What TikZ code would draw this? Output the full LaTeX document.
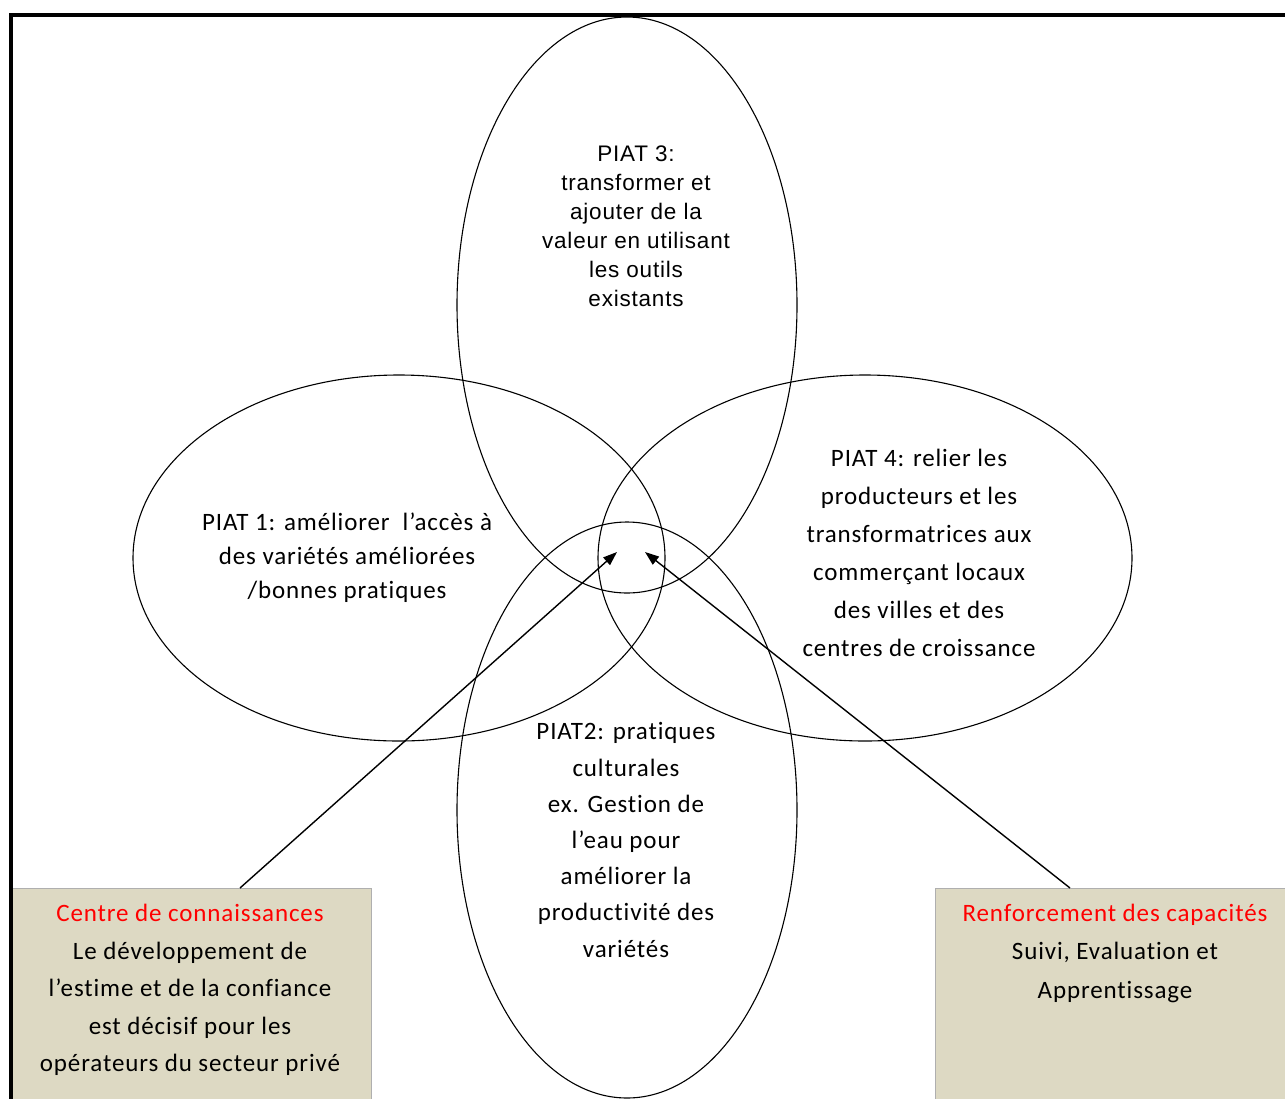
\documentclass[tikz,border=0pt]{standalone}
\usepackage{fontspec}
\setmainfont[LetterSpace=3.5,Ligatures={NoCommon}]{Carlito}
\newfontfamily\arialf[LetterSpace=3.5]{Liberation Sans}
\usetikzlibrary{shapes.geometric,arrows.meta}
\definecolor{boxfill}{RGB}{221,217,195}
\definecolor{boxline}{RGB}{175,175,175}
\begin{document}
\begin{tikzpicture}[x=1pt,y=-1pt,
  petal/.style={draw=black, line width=1.1pt, ellipse, inner sep=0pt, outer sep=0pt},
  lbl/.style={align=center, inner sep=0pt},
  infobox/.style={draw=boxline, fill=boxfill, line width=0.8pt, inner sep=0pt, anchor=north west},
  link/.style={draw=black, line width=1.4pt, -{Triangle[length=14pt,width=10pt]}},
  frame/.style={draw=black, line width=4.5pt}]
\useasboundingbox (0,0) rectangle (1285,1098);
\clip (0,0) rectangle (1285,1098);
\fill[white] (0,0) rectangle (1285,1098);
% petals
\node[petal, minimum width=340pt, minimum height=576pt] (p3) at (627,305) {};
\node[petal, minimum width=340pt, minimum height=576pt] (p2) at (627,810) {};
\node[petal, minimum width=532pt, minimum height=366pt] (p1) at (399,558) {};
\node[petal, minimum width=534pt, minimum height=366pt] (p4) at (865,558) {};
% petal texts
\node[lbl, font=\arialf\fontsize{22.5}{29}\selectfont] (t3) at (636,226)
  {PIAT 3:\\transformer et\\ajouter de la\\valeur en utilisant\\les outils\\existants};
\node[lbl, font=\fontsize{25}{34}\selectfont] (t1) at (347,558)
  {PIAT 1: améliorer\ \ l’accès à\\des variétés améliorées\\/bonnes pratiques};
\node[lbl, font=\fontsize{25}{38}\selectfont] (t4) at (919,553)
  {PIAT 4: relier les\\producteurs et les\\transformatrices aux\\commerçant locaux\\des villes et des\\centres de croissance};
\node[lbl, font=\fontsize{25}{36.2}\selectfont] (t2) at (626,840)
  {PIAT2: pratiques\\culturales\\ex. Gestion de\\l’eau pour\\améliorer la\\productivité des\\variétés};
% boxes
\node[infobox, minimum width=359pt, minimum height=240pt] (kc) at (12,888) {};
\node[infobox, minimum width=360pt, minimum height=240pt] (rc) at (935,888) {};
\node[lbl, font=\fontsize{25}{37.5}\selectfont] (kct) at (190,990)
  {\textcolor{red}{Centre de connaissances}\\Le développement de\\l’estime et de la confiance\\est décisif pour les\\opérateurs du secteur privé};
\node[lbl, font=\fontsize{25}{38.5}\selectfont] (rct) at (1115,953)
  {\textcolor{red}{Renforcement des capacités}\\Suivi, Evaluation et\\Apprentissage};
% arrows
\coordinate (ks) at (240,888);
\coordinate (ke) at (617,552);
\coordinate (rs) at (1070,888);
\coordinate (re) at (645,552);
\draw[link] (ks) -- (ke);
\draw[link] (rs) -- (re);
% frame
\coordinate (f1) at (11,1120);
\coordinate (f2) at (11,15);
\coordinate (f3) at (1300,15);
\draw[frame] (f1) -- (f2) -- (f3);
\end{tikzpicture}
\end{document}
